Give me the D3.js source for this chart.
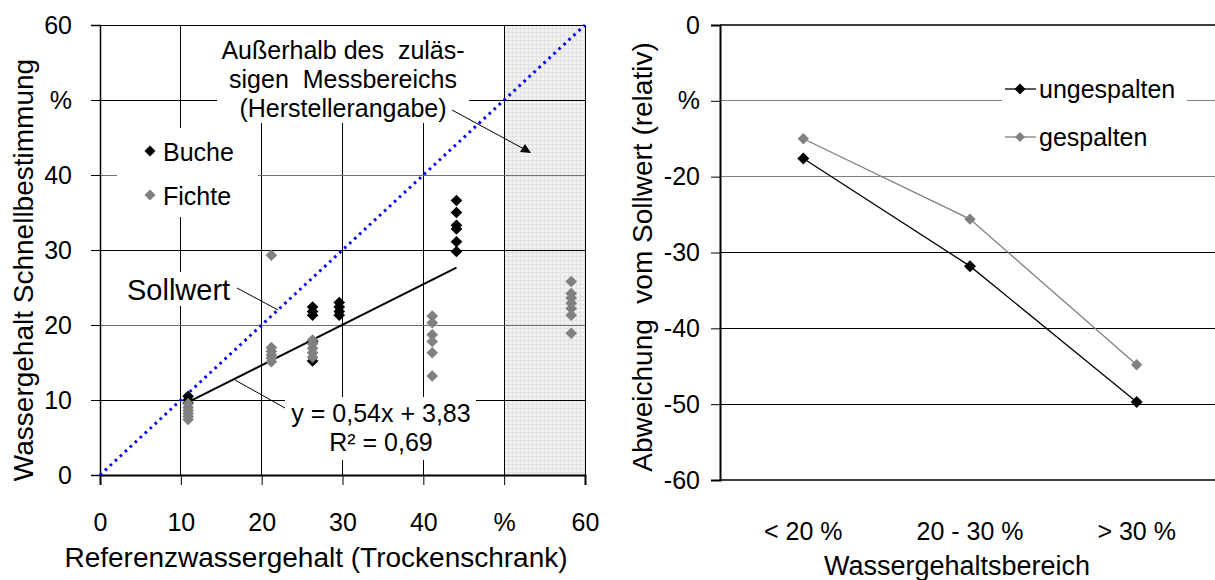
<!DOCTYPE html>
<html><head><meta charset="utf-8">
<script src="https://cdn.jsdelivr.net/npm/d3@7"></script>
<style>
body{margin:0;background:#fff}
svg{display:block}
text{font-family:"Liberation Sans",Arial,Helvetica,sans-serif;fill:#000}
</style>
</head><body>
<svg id="c" width="1215" height="580"></svg>
<script>
// ---------- data (left chart) ----------
const xTicks = [0, 10, 20, 30, 40, 50, 60];
const yTicks = [0, 10, 20, 30, 40, 50, 60];
const unitTick = 50; // tick labelled "%"
const buche = [
  [10.9, 10.5], [10.9, 10.0], [10.9, 9.6],
  [26.3, 22.4], [26.3, 21.8], [26.3, 21.3], [26.3, 17.8], [26.3, 15.2],
  [29.6, 23.0], [29.6, 22.4], [29.6, 21.8], [29.6, 21.3],
  [44.1, 36.6], [44.1, 35.0], [44.1, 33.3], [44.1, 32.8], [44.1, 31.1], [44.1, 29.8]
];
const fichte = [
  [10.9, 9.5], [10.9, 9.0], [10.9, 8.6], [10.9, 8.2], [10.9, 7.8], [10.9, 7.4],
  [21.2, 29.3], [21.2, 17.0], [21.2, 16.5], [21.2, 16.0], [21.2, 15.6], [21.2, 15.1],
  [26.3, 18.0], [26.3, 17.5], [26.3, 16.9], [26.3, 16.3], [26.3, 15.7],
  [41.1, 21.2], [41.1, 20.3], [41.1, 18.7], [41.1, 17.8], [41.1, 16.3], [41.1, 13.2],
  [58.3, 25.8], [58.3, 24.2], [58.3, 23.6], [58.3, 22.9], [58.3, 22.2], [58.3, 21.3], [58.3, 18.9]
];
const regSlope = 0.54, regIntercept = 3.83, regFrom = 10.9, regTo = 44.1;
const sollLine = [[0, 0], [60, 60]];
const outOfRange = [50, 60];

// ---------- data (right chart) ----------
const categories = ["< 20 %", "20 - 30 %", "> 30 %"];
const ungespalten = [-17.6, -31.8, -49.7];
const gespalten = [-15.0, -25.6, -44.8];
const rTicks = [0, -10, -20, -30, -40, -50, -60];
const rUnitTick = -10;

const svg = d3.select("#c");
const defs = svg.append("defs");
const pat = defs.append("pattern").attr("id", "fine").attr("patternUnits", "userSpaceOnUse")
  .attr("width", 4).attr("height", 4);
pat.append("rect").attr("width", 4).attr("height", 4).attr("fill", "#f2f2f2");
pat.append("path").attr("d", "M0,0.5H4M0.5,0V4").attr("stroke", "#e2e2e2").attr("stroke-width", 1);

// square diamond marker (rotated square)
const sq = d3.symbol().type(d3.symbolSquare);
const dia = (px, py) => `translate(${px},${py}) rotate(45)`;

// ================= LEFT CHART =================
const x = d3.scaleLinear().domain([0, 60]).range([100, 585]);
const y = d3.scaleLinear().domain([0, 60]).range([475, 25]);
const L = svg.append("g");

L.append("rect").attr("x", x(outOfRange[0])).attr("y", y(60))
  .attr("width", x(outOfRange[1]) - x(outOfRange[0])).attr("height", y(0) - y(60))
  .attr("fill", "url(#fine)");

L.append("g").selectAll("line").data(xTicks.filter(d => d > 0 && d < 60)).join("line")
  .attr("x1", d => x(d)).attr("x2", d => x(d)).attr("y1", y(0)).attr("y2", y(60))
  .attr("stroke", "#000").attr("stroke-width", 1).attr("shape-rendering", "crispEdges");
L.append("g").selectAll("line").data(yTicks.filter(d => d > 0 && d < 60)).join("line")
  .attr("x1", x(0)).attr("x2", x(60)).attr("y1", d => y(d)).attr("y2", d => y(d))
  .attr("stroke", d => (d === 20 || d === 40) ? "#707070" : "#000").attr("stroke-width", 1)
  .attr("shape-rendering", "crispEdges");

const whiteBoxes = L.append("g");
whiteBoxes.append("rect").attr("x", 217).attr("y", 26).attr("width", 252).attr("height", 97).attr("fill", "#fff");
whiteBoxes.append("rect").attr("x", 117).attr("y", 128).attr("width", 141).attr("height", 89).attr("fill", "#fff");
whiteBoxes.append("rect").attr("x", 122).attr("y", 272).attr("width", 114).attr("height", 34).attr("fill", "#fff");
whiteBoxes.append("rect").attr("x", 285).attr("y", 397).attr("width", 191).attr("height", 63).attr("fill", "#fff");

L.append("line").attr("x1", x(0)).attr("x2", x(60)).attr("y1", y(60)).attr("y2", y(60)).attr("stroke", "#000").attr("shape-rendering", "crispEdges");
L.append("line").attr("x1", x(60)).attr("x2", x(60)).attr("y1", y(60)).attr("y2", y(0)).attr("stroke", "#000").attr("shape-rendering", "crispEdges");

const xAxis = L.append("g").attr("transform", `translate(0,${y(0)})`)
  .call(d3.axisBottom(x).tickValues(xTicks).tickSize(10).tickPadding(28)
    .tickFormat(d => d === unitTick ? "%" : String(d)));
const yAxis = L.append("g").attr("transform", `translate(${x(0)},0)`)
  .call(d3.axisLeft(y).tickValues(yTicks).tickSize(9).tickPadding(19)
    .tickFormat(d => d === unitTick ? "%" : String(d)));
[xAxis, yAxis].forEach(a => {
  a.select(".domain").attr("stroke", "#000").attr("stroke-width", 1.5);
  a.selectAll(".tick line").attr("stroke", "#000");
  a.selectAll(".tick text").attr("font-size", 25).attr("font-family", "Liberation Sans, Arial, sans-serif");
});
xAxis.select(".domain").attr("stroke-width", 2);

L.append("line").attr("x1", x(sollLine[0][0])).attr("y1", y(sollLine[0][1]))
  .attr("x2", x(sollLine[1][0])).attr("y2", y(sollLine[1][1]))
  .attr("stroke", "#0000ff").attr("stroke-width", 3).attr("stroke-dasharray", "2.6,4.2");

L.append("line").attr("x1", x(regFrom)).attr("y1", y(regSlope * regFrom + regIntercept))
  .attr("x2", x(regTo)).attr("y2", y(regSlope * regTo + regIntercept))
  .attr("stroke", "#000").attr("stroke-width", 2);

L.append("g").selectAll("path").data(buche).join("path")
  .attr("transform", d => dia(x(d[0]), y(d[1])))
  .attr("d", sq.size(68)).attr("fill", "#000");
L.append("g").selectAll("path").data(fichte).join("path")
  .attr("transform", d => dia(x(d[0]), y(d[1])))
  .attr("d", sq.size(68)).attr("fill", "#808080");

const leg = L.append("g");
leg.append("path").attr("transform", dia(150, 151)).attr("d", sq.size(60)).attr("fill", "#000");
leg.append("text").attr("x", 163).attr("y", 161).attr("font-size", 25).text("Buche");
leg.append("path").attr("transform", dia(150, 195)).attr("d", sq.size(60)).attr("fill", "#808080");
leg.append("text").attr("x", 163).attr("y", 205).attr("font-size", 25).text("Fichte");

const ann = L.append("g").attr("font-size", 25).attr("text-anchor", "middle");
ann.append("text").attr("x", 343).attr("y", 59).attr("xml:space", "preserve").text("Außerhalb des  zuläs-");
ann.append("text").attr("x", 343).attr("y", 88).attr("xml:space", "preserve").text("sigen  Messbereichs");
ann.append("text").attr("x", 343).attr("y", 117).text("(Herstellerangabe)");
L.append("line").attr("x1", 452).attr("y1", 110).attr("x2", 524).attr("y2", 149).attr("stroke", "#000").attr("stroke-width", 1);
L.append("path").attr("d", "M531,153 L520,152 L525,144 Z").attr("fill", "#000");

L.append("text").attr("x", 127).attr("y", 300).attr("font-size", 29).text("Sollwert");
L.append("line").attr("x1", 237).attr("y1", 288).attr("x2", 278).attr("y2", 310).attr("stroke", "#000");

L.append("text").attr("x", 381).attr("y", 422).attr("font-size", 25).attr("text-anchor", "middle").text("y = 0,54x + 3,83");
L.append("text").attr("x", 381).attr("y", 451).attr("font-size", 25).attr("text-anchor", "middle").text("R² = 0,69");
L.append("line").attr("x1", 285).attr("y1", 408).attr("x2", 235).attr("y2", 380).attr("stroke", "#000");

L.append("text").attr("x", 316).attr("y", 567).attr("font-size", 28).attr("text-anchor", "middle")
  .text("Referenzwassergehalt (Trockenschrank)");
L.append("text").attr("transform", "translate(33,270) rotate(-90)").attr("font-size", 28).attr("text-anchor", "middle")
  .text("Wassergehalt Schnellbestimmung");

// ================= RIGHT CHART =================
const xr = d3.scaleBand().domain(categories).range([720, 1220]);
const yr = d3.scaleLinear().domain([-60, 0]).range([480, 25]);
const R = svg.append("g");

R.append("g").selectAll("line").data(rTicks.filter(d => d < 0 && d > -60)).join("line")
  .attr("x1", 720).attr("x2", 1220).attr("y1", d => yr(d)).attr("y2", d => yr(d))
  .attr("stroke", d => (d === -10 || d === -20) ? "#808080" : "#000").attr("shape-rendering", "crispEdges");
R.append("line").attr("x1", 720).attr("x2", 1220).attr("y1", yr(0)).attr("y2", yr(0)).attr("stroke", "#000").attr("stroke-width", 1.5);
R.append("line").attr("x1", 720).attr("x2", 1220).attr("y1", yr(-60)).attr("y2", yr(-60)).attr("stroke", "#000").attr("stroke-width", 1.5);

R.append("rect").attr("x", 1002).attr("y", 70).attr("width", 185).attr("height", 80).attr("fill", "#fff");

const ryAxis = R.append("g").attr("transform", "translate(720,0)")
  .call(d3.axisLeft(yr).tickValues(rTicks).tickSize(9).tickPadding(11)
    .tickFormat(d => d === rUnitTick ? "%" : String(d)));
ryAxis.select(".domain").attr("stroke", "#000").attr("stroke-width", 2);
ryAxis.selectAll(".tick line").attr("stroke", "#000");
ryAxis.selectAll(".tick text").attr("font-size", 25).attr("font-family", "Liberation Sans, Arial, sans-serif");

const rxAxis = R.append("g").attr("transform", "translate(0,480)")
  .call(d3.axisBottom(xr).tickSize(0).tickPadding(42));
rxAxis.select(".domain").remove();
rxAxis.selectAll(".tick text").attr("font-size", 25).attr("font-family", "Liberation Sans, Arial, sans-serif");

const cx = d => xr(d) + xr.bandwidth() / 2;
const lineGen = d3.line().x(d => cx(d.c)).y(d => yr(d.v));
const gData = categories.map((c, i) => ({ c, v: gespalten[i] }));
const uData = categories.map((c, i) => ({ c, v: ungespalten[i] }));
R.append("path").datum(gData).attr("d", lineGen).attr("fill", "none").attr("stroke", "#808080").attr("stroke-width", 1.3);
R.append("path").datum(uData).attr("d", lineGen).attr("fill", "none").attr("stroke", "#000").attr("stroke-width", 1.3);
R.append("g").selectAll("path").data(gData).join("path")
  .attr("transform", d => dia(cx(d.c), yr(d.v))).attr("d", sq.size(64)).attr("fill", "#808080");
R.append("g").selectAll("path").data(uData).join("path")
  .attr("transform", d => dia(cx(d.c), yr(d.v))).attr("d", sq.size(72)).attr("fill", "#000");

R.append("line").attr("x1", 1005).attr("x2", 1036).attr("y1", 89).attr("y2", 89).attr("stroke", "#000").attr("stroke-width", 1.3);
R.append("path").attr("transform", dia(1020, 89)).attr("d", sq.size(60)).attr("fill", "#000");
R.append("text").attr("x", 1039).attr("y", 98).attr("font-size", 25).text("ungespalten");
R.append("line").attr("x1", 1005).attr("x2", 1036).attr("y1", 137).attr("y2", 137).attr("stroke", "#808080").attr("stroke-width", 1.3);
R.append("path").attr("transform", dia(1020, 137)).attr("d", sq.size(50)).attr("fill", "#808080");
R.append("text").attr("x", 1039).attr("y", 146).attr("font-size", 25).text("gespalten");

R.append("text").attr("x", 957).attr("y", 575).attr("font-size", 27).attr("text-anchor", "middle")
  .text("Wassergehaltsbereich");
R.append("text").attr("transform", "translate(652,257) rotate(-90)").attr("font-size", 28).attr("text-anchor", "middle")
  .attr("xml:space", "preserve").text("Abweichung  vom Sollwert (relativ)");
</script>
</body></html>
